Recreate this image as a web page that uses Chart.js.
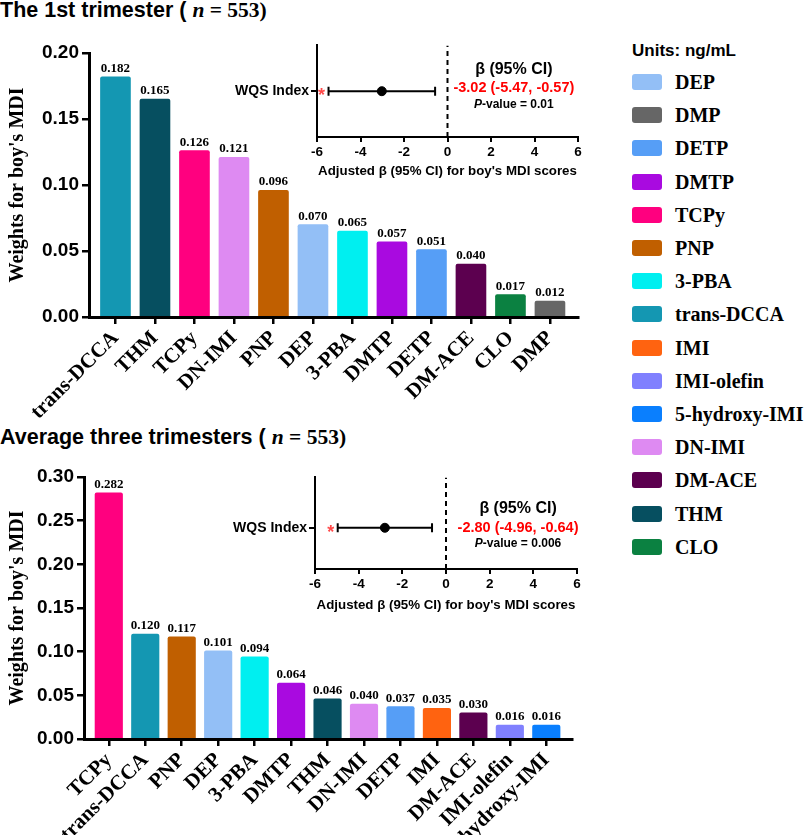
<!DOCTYPE html>
<html>
<head>
<meta charset="utf-8">
<script src="https://cdn.jsdelivr.net/npm/chart.js@4.4.1/dist/chart.umd.min.js"></script>
<style>
body { margin: 0; width: 810px; height: 835px; position: relative; background: #fff; overflow: hidden; }
canvas { position: absolute; }
.title { position: absolute; left: 0; font: bold 21.5px "Liberation Sans", Arial, sans-serif; white-space: nowrap; color: #000; }
.title .s { font-family: "Liberation Serif", "Times New Roman", serif; }
#legend { position: absolute; left: 632px; top: 0; }
#legend .head { position: absolute; left: 0; top: 41px; font: bold 17px "Liberation Sans", Arial, sans-serif; white-space: nowrap; }
#legend .item { position: absolute; left: 0; height: 16px; white-space: nowrap; }
#legend .sw { position: absolute; left: 0; top: 0; width: 30px; height: 16px; border-radius: 3px; }
#legend .lb { position: absolute; left: 43px; top: -4px; font: bold 20px "Liberation Serif", "Times New Roman", serif; line-height: 24px; }
</style>
</head>
<body>
<div class="title" style="top:-2px">The 1st trimester ( <i class="s">n</i><span class="s"> = 553)</span></div>
<div class="title" style="top:425px">Average three trimesters ( <i class="s">n</i><span class="s"> = 553)</span></div>

<canvas id="barTop" width="600" height="392" style="left:0;top:30px"></canvas>
<canvas id="barAvg" width="600" height="375" style="left:0;top:460px"></canvas>
<canvas id="forestTop" width="380" height="144" style="left:230px;top:35px"></canvas>
<canvas id="forestAvg" width="380" height="146" style="left:230px;top:467px"></canvas>
<div id="legend"><div class="head">Units: ng/mL</div></div>

<script>
// Datos: pesos WQS por trimestre
const t1Labels = ['trans-DCCA', 'THM', 'TCPy', 'DN-IMI', 'PNP', 'DEP', '3-PBA', 'DMTP', 'DETP', 'DM-ACE', 'CLO', 'DMP'];
const t1Weights = [0.182, 0.165, 0.126, 0.121, 0.096, 0.070, 0.065, 0.057, 0.051, 0.040, 0.017, 0.012];

const avgLabels = ['TCPy', 'trans-DCCA', 'PNP', 'DEP', '3-PBA', 'DMTP', 'THM', 'DN-IMI', 'DETP', 'IMI', 'DM-ACE', 'IMI-olefin', '5-hydroxy-IMI'];
const avgWeights = [0.282, 0.120, 0.117, 0.101, 0.094, 0.064, 0.046, 0.040, 0.037, 0.035, 0.030, 0.016, 0.016];

const legendNames = ['DEP', 'DMP', 'DETP', 'DMTP', 'TCPy', 'PNP', '3-PBA', 'trans-DCCA', 'IMI', 'IMI-olefin', '5-hydroxy-IMI', 'DN-IMI', 'DM-ACE', 'THM', 'CLO'];

// Datos: índice WQS (beta e IC 95%)
const forestRow = ['WQS Index'];
const t1Beta = [-3.02], t1Lower = [-5.47], t1Upper = [-0.57], t1P = ['0.01'];
const avgBeta = [-2.80], avgLower = [-4.96], avgUpper = [-0.64], avgP = ['0.006'];
const forestTicks = [-6, -4, -2, 0, 2, 4, 6];

// Colores por compuesto
const colors = {
    'DEP': '#93bff6', 'DMP': '#666666', 'DETP': '#569ef6', 'DMTP': '#a90ae0',
    'TCPy': '#ff007f', 'PNP': '#c05f00', '3-PBA': '#00eff0', 'trans-DCCA': '#1497b2',
    'IMI': '#ff6310', 'IMI-olefin': '#8080fe', '5-hydroxy-IMI': '#0a7ffe', 'DN-IMI': '#de8af2',
    'DM-ACE': '#5c004f', 'THM': '#064f60', 'CLO': '#0b8141'
};

const SERIF = '"Liberation Serif", "Times New Roman", serif';
const SANS = '"Liberation Sans", Arial, sans-serif';

// Leyenda
const legend = document.getElementById('legend');
legendNames.forEach((name, i) => {
    const item = document.createElement('div');
    item.className = 'item';
    item.style.top = (74 + i * 33.2) + 'px';
    item.innerHTML = `<span class="sw" style="background:${colors[name]}"></span><span class="lb">${name}</span>`;
    legend.appendChild(item);
});

// Etiquetas de valor sobre las barras
const barValueLabels = {
    id: 'barValueLabels',
    afterDatasetsDraw(chart) {
        const ctx = chart.ctx;
        const ds = chart.data.datasets[0];
        ctx.save();
        ctx.font = 'bold 13px ' + SERIF;
        ctx.textAlign = 'center';
        ctx.textBaseline = 'alphabetic';
        ctx.fillStyle = '#000';
        chart.getDatasetMeta(0).data.forEach((bar, i) => {
            ctx.fillText(ds.data[i].y.toFixed(3), bar.x, bar.y - 5);
        });
        ctx.restore();
    }
};

const makeBarChart = (id, labels, values, cfg) => {
    return new Chart(document.getElementById(id), {
        type: 'bar',
        data: {
            datasets: [{
                data: values.map((v, i) => ({ x: i, y: v })),
                backgroundColor: labels.map(l => colors[l]),
                barThickness: cfg.barWidth,
                borderRadius: 2,
                borderSkipped: 'bottom'
            }]
        },
        options: {
            responsive: false,
            animation: false,
            events: [],
            layout: { padding: { top: cfg.padTop, right: cfg.padRight, left: 0, bottom: 0 } },
            plugins: { legend: { display: false }, tooltip: { enabled: false } },
            scales: {
                x: {
                    type: 'linear',
                    min: cfg.xMin,
                    max: cfg.xMax,
                    offset: false,
                    afterBuildTicks: s => { s.ticks = labels.map((_, i) => ({ value: i })); },
                    afterFit: s => { s.height = cfg.xHeight; },
                    ticks: {
                        autoSkip: false,
                        minRotation: 45,
                        maxRotation: 45,
                        padding: 2,
                        color: '#000',
                        font: { family: SERIF, size: 21, weight: 'bold' },
                        callback: v => labels[v]
                    },
                    grid: { display: true, offset: false, drawOnChartArea: false, drawTicks: true, tickLength: 7, lineWidth: 2.5, color: '#000' },
                    border: { display: true, width: 3, color: '#000' }
                },
                y: {
                    min: 0,
                    max: cfg.yMax,
                    afterFit: s => { s.width = cfg.yWidth; },
                    ticks: {
                        stepSize: 0.05,
                        padding: 3,
                        color: '#000',
                        font: { family: SANS, size: 19, weight: 'bold' },
                        callback: v => Number(v).toFixed(2)
                    },
                    grid: { display: true, drawOnChartArea: false, drawTicks: true, tickLength: 7, lineWidth: 2.5, color: '#000' },
                    border: { display: true, width: 3, color: '#000' },
                    title: {
                        display: true,
                        text: "Weights for boy's MDI",
                        color: '#000',
                        padding: { top: 6, bottom: 0 },
                        font: { family: SERIF, size: 20, weight: 'bold' }
                    }
                }
            }
        },
        plugins: [barValueLabels]
    });
};

// Texto beta / IC / p y asterisco
const forestText = {
    id: 'forestText',
    afterDatasetsDraw(chart, args, opts) {
        const ctx = chart.ctx;
        const xs = chart.scales.x, ys = chart.scales.y;
        const row = ys.getPixelForValue(0);
        const cx = xs.getPixelForValue(opts.textAt);
        const base = row + opts.shift;
        ctx.save();
        ctx.textAlign = 'center';
        ctx.textBaseline = 'middle';
        ctx.fillStyle = '#000';
        ctx.font = 'bold 16px ' + SANS;
        ctx.fillText('\u03b2 (95% CI)', cx, base - 19);
        ctx.fillStyle = '#ff0000';
        ctx.font = 'bold 14.5px ' + SANS;
        ctx.fillText(`${opts.beta.toFixed(2)} (${opts.lower.toFixed(2)}, ${opts.upper.toFixed(2)})`, cx, base);
        // P-value con P en cursiva
        ctx.fillStyle = '#000';
        const pPart = 'P';
        ctx.font = 'bold 12px ' + SANS;
        const rest = '-value = ' + opts.p;
        const wRest = ctx.measureText(rest).width;
        ctx.font = 'italic bold 12px ' + SANS;
        const wP = ctx.measureText(pPart).width;
        const startX = cx - (wP + wRest) / 2;
        ctx.textAlign = 'left';
        ctx.fillText(pPart, startX, base + 16);
        ctx.font = 'bold 12px ' + SANS;
        ctx.fillText(rest, startX + wP, base + 16);
        // asterisco rojo
        ctx.fillStyle = '#ff4a4a';
        ctx.textAlign = 'center';
        ctx.textBaseline = 'alphabetic';
        ctx.font = 'bold 18px ' + SANS;
        ctx.fillText('*', xs.getPixelForValue(opts.lower) - 7, row + 10);
        ctx.restore();
    }
};

const makeForest = (id, beta, lower, upper, p, cfg) => {
    return new Chart(document.getElementById(id), {
        type: 'scatter',
        data: {
            datasets: [
                {
                    data: [{ x: 0, y: cfg.yMin }, { x: 0, y: cfg.yMax }],
                    showLine: true, borderColor: '#000', borderWidth: 2, borderDash: [5, 4], pointRadius: 0
                },
                {
                    data: [{ x: lower[0], y: 0 }, { x: upper[0], y: 0 }],
                    showLine: true, borderColor: '#000', borderWidth: 2,
                    pointStyle: 'line', rotation: 90, pointRadius: 4.5, pointBorderWidth: 2, pointBorderColor: '#000'
                },
                {
                    data: [{ x: beta[0], y: 0 }],
                    pointRadius: 4.5, backgroundColor: '#000', borderColor: '#000'
                }
            ]
        },
        options: {
            responsive: false,
            animation: false,
            events: [],
            layout: { padding: { top: cfg.padTop, right: cfg.padRight, left: 0, bottom: 0 } },
            plugins: {
                legend: { display: false },
                tooltip: { enabled: false },
                forestText: { beta: beta[0], lower: lower[0], upper: upper[0], p: p[0], textAt: cfg.textAt, shift: cfg.shift }
            },
            scales: {
                x: {
                    type: 'linear',
                    min: -6,
                    max: 6,
                    afterBuildTicks: s => { s.ticks = forestTicks.map(v => ({ value: v })); },
                    afterFit: s => { s.height = cfg.xHeight; },
                    ticks: { padding: 2, color: '#000', font: { family: SANS, size: 13.5, weight: 'bold' } },
                    grid: { display: true, drawOnChartArea: false, drawTicks: true, tickLength: 5, lineWidth: 2, color: '#000' },
                    border: { display: true, width: 2, color: '#000' },
                    title: {
                        display: true,
                        text: "Adjusted \u03b2 (95% CI) for boy's MDI scores",
                        color: '#000',
                        padding: { top: 0, bottom: 0 },
                        font: { family: SANS, size: 13.3, weight: 'bold' }
                    }
                },
                y: {
                    type: 'linear',
                    min: cfg.yMin,
                    max: cfg.yMax,
                    afterBuildTicks: s => { s.ticks = [{ value: 0 }]; },
                    afterFit: s => { s.width = cfg.yWidth; },
                    ticks: { padding: 2, color: '#000', font: { family: SANS, size: 14, weight: 'bold' }, callback: () => forestRow[0] },
                    grid: { display: true, drawOnChartArea: false, drawTicks: true, tickLength: 6, lineWidth: 2, color: '#000' },
                    border: { display: true, width: 2, color: '#000' }
                }
            }
        },
        plugins: [forestText]
    });
};

makeBarChart('barTop', t1Labels, t1Weights, {
    xMin: -0.67, xMax: 11.71, yMax: 0.20, barWidth: 30,
    padTop: 23, padRight: 22, xHeight: 105, yWidth: 89
});
makeBarChart('barAvg', avgLabels, avgWeights, {
    xMin: -0.68, xMax: 12.705, yMax: 0.30, barWidth: 27.5,
    padTop: 17, padRight: 28, xHeight: 96, yWidth: 84
});
makeForest('forestTop', t1Beta, t1Lower, t1Upper, t1P, {
    yMin: -1, yMax: 1, padTop: 8, padRight: 32, xHeight: 42, yWidth: 87, textAt: 3.05, shift: -3
});
makeForest('forestAvg', avgBeta, avgLower, avgUpper, avgP, {
    yMin: -0.9, yMax: 1.1, padTop: 8, padRight: 33, xHeight: 44, yWidth: 85, textAt: 3.3, shift: 0
});
</script>
</body>
</html>
